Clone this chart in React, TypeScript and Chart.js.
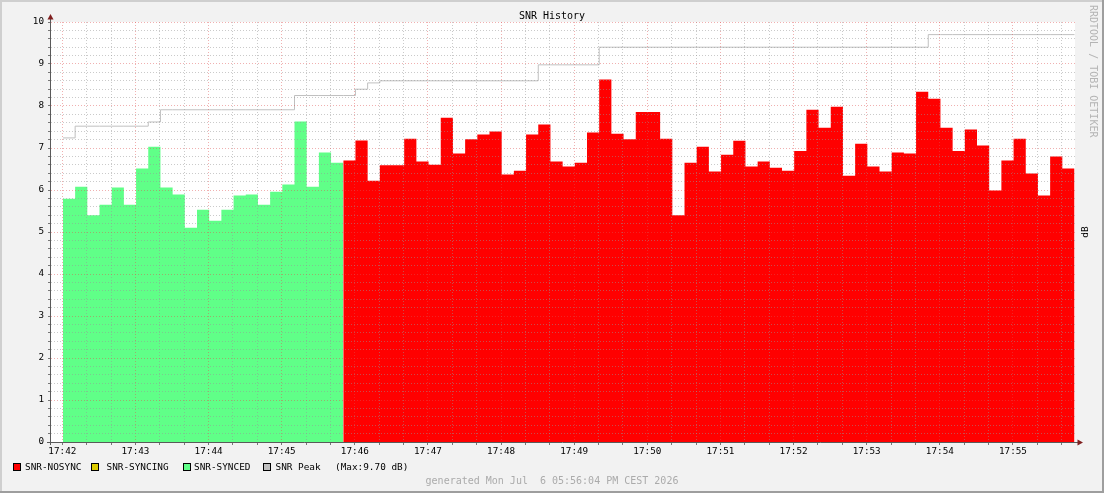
import React, { useEffect, useRef } from 'react';
import { Chart, registerables } from 'chart.js';

Chart.register(...registerables);

// ---------- data ----------
const chartTitle = 'SNR History';
const xTickLabels = ['17:42', '17:43', '17:44', '17:45', '17:46', '17:47', '17:48', '17:49', '17:50', '17:51', '17:52', '17:53', '17:54', '17:55'];
const yTickLabels = ['0', '1', '2', '3', '4', '5', '6', '7', '8', '9', '10'];
const seriesLabels = ['SNR-NOSYNC', 'SNR-SYNCING', 'SNR-SYNCED', 'SNR Peak'];

// 10 s samples, first sample right after 17:42
const syncedValues = [
  5.79, 6.08, 5.40, 5.65, 6.06, 5.65, 6.51, 7.03, 6.06, 5.89, 5.10, 5.53,
  5.27, 5.53, 5.87, 5.89, 5.65, 5.96, 6.13, 7.63, 6.08, 6.89, 6.65,
];
const syncingValues: number[] = [];
const nosyncValues = [
  6.70, 7.18, 6.22, 6.59, 6.59, 7.22, 6.68, 6.60, 7.72, 6.87, 7.21, 7.32,
  7.39, 6.37, 6.46, 7.32, 7.56, 6.68, 6.56, 6.65, 7.37, 8.63, 7.34, 7.21,
  7.86, 7.86, 7.22, 5.40, 6.65, 7.03, 6.44, 6.84, 7.17, 6.56, 6.68, 6.53,
  6.46, 6.93, 7.91, 7.48, 7.98, 6.34, 7.10, 6.56, 6.44, 6.89, 6.87, 8.34,
  8.17, 7.48, 6.93, 7.44, 7.06, 5.99, 6.70, 7.22, 6.39, 5.87, 6.80, 6.51,
];
// peak per sample (83 samples, same timeline)
const peakValues = [
  7.24,
  7.52, 7.52, 7.52, 7.52, 7.52, 7.52,
  7.62,
  7.91, 7.91, 7.91, 7.91, 7.91, 7.91, 7.91, 7.91, 7.91, 7.91, 7.91,
  8.25, 8.25, 8.25, 8.25, 8.25,
  8.40,
  8.55,
  8.60, 8.60, 8.60, 8.60, 8.60, 8.60, 8.60, 8.60, 8.60, 8.60, 8.60, 8.60, 8.60,
  8.98, 8.98, 8.98, 8.98, 8.98,
  9.40, 9.40, 9.40, 9.40, 9.40, 9.40, 9.40, 9.40, 9.40, 9.40,
  9.40, 9.40, 9.40, 9.40, 9.40, 9.40, 9.40, 9.40, 9.40, 9.40,
  9.40, 9.40, 9.40, 9.40, 9.40, 9.40, 9.40,
  9.70, 9.70, 9.70, 9.70, 9.70, 9.70, 9.70, 9.70, 9.70, 9.70, 9.70, 9.70,
];
const peakMaxText = '(Max:9.70 dB)';
const footerText = 'generated Mon Jul  6 05:56:04 PM CEST 2026';
const watermarkText = 'RRDTOOL / TOBI OETIKER';
const unitLabel = 'dB';

// ---------- styling / geometry constants ----------
const STEP = 10; // seconds per sample
const FIRST_SAMPLE = 0.5; // seconds after 17:42:00
const X_MIN = -9.3;
const X_MAX = 830.9;
const seriesColors = ['#FF0000', '#DDCC00', '#60FF88', '#C0C0C0'];
const MONO = '"DejaVu Sans Mono", monospace';
const MINOR_GRID = 'rgba(150,150,150,0.5)';
const MAJOR_GRID = 'rgba(222,79,79,0.45)';

function blockPoints(values: number[], startIndex: number) {
  const pts: { x: number; y: number }[] = [];
  values.forEach((v, i) => {
    const t0 = FIRST_SAMPLE + (startIndex + i) * STEP;
    pts.push({ x: t0, y: v }, { x: t0 + STEP, y: v });
  });
  return pts;
}

const isWhole = (v: number) => Math.abs(v - Math.round(v)) < 1e-6;

const rrdPlugin = {
  id: 'rrdDecor',
  beforeDraw(chart: any) {
    const { ctx, width, height, chartArea: a } = chart;
    ctx.save();
    ctx.fillStyle = '#F2F2F2';
    ctx.fillRect(0, 0, width, height);
    ctx.fillStyle = '#CFCFCF';
    ctx.fillRect(0, 0, width, 2);
    ctx.fillRect(0, 0, 2, height);
    ctx.fillStyle = '#9E9E9E';
    ctx.fillRect(0, height - 2, width, 2);
    ctx.fillRect(width - 2, 0, 2, height);
    ctx.fillStyle = '#FFFFFF';
    ctx.fillRect(a.left, a.top, a.right - a.left, a.bottom - a.top);
    ctx.restore();
  },
  afterDraw(chart: any) {
    const { ctx, chartArea: a } = chart;
    ctx.save();
    // axes
    ctx.strokeStyle = '#5A5A5A';
    ctx.lineWidth = 1;
    ctx.beginPath();
    ctx.moveTo(a.left - 0.5, a.bottom + 3);
    ctx.lineTo(a.left - 0.5, a.top - 4);
    ctx.moveTo(a.left - 4, a.bottom + 0.5);
    ctx.lineTo(a.right + 3, a.bottom + 0.5);
    ctx.stroke();
    ctx.fillStyle = 'rgb(128,31,31)';
    ctx.beginPath();
    ctx.moveTo(a.left - 0.5, a.top - 8);
    ctx.lineTo(a.left - 3.5, a.top - 2.5);
    ctx.lineTo(a.left + 2.5, a.top - 2.5);
    ctx.closePath();
    ctx.fill();
    ctx.beginPath();
    ctx.moveTo(a.right + 8, a.bottom + 0.5);
    ctx.lineTo(a.right + 2.5, a.bottom - 2.5);
    ctx.lineTo(a.right + 2.5, a.bottom + 3.5);
    ctx.closePath();
    ctx.fill();

    // title
    ctx.fillStyle = '#000';
    ctx.font = `10px ${MONO}`;
    ctx.textAlign = 'center';
    ctx.textBaseline = 'middle';
    ctx.fillText(chartTitle, 552, 16);

    // legend
    ctx.font = `9.4px ${MONO}`;
    ctx.textAlign = 'left';
    const boxX = [13, 91, 183, 263];
    const textX = [25, 106.5, 194, 275.5];
    seriesLabels.forEach((label, i) => {
      ctx.fillStyle = seriesColors[i];
      ctx.fillRect(boxX[i], 463, 8, 8);
      ctx.strokeStyle = '#000';
      ctx.strokeRect(boxX[i] + 0.5, 463.5, 7, 7);
      ctx.fillStyle = '#000';
      ctx.fillText(label, textX[i], 467.5);
    });
    ctx.fillText(peakMaxText, 335, 467.5);

    // footer
    ctx.font = `10px ${MONO}`;
    ctx.fillStyle = '#ABABAB';
    ctx.textAlign = 'center';
    ctx.fillText(footerText, 552, 481.5);

    // watermark (top to bottom)
    ctx.save();
    ctx.translate(1093, 5);
    ctx.rotate(Math.PI / 2);
    ctx.font = `10px ${MONO}`;
    ctx.fillStyle = '#B4B4B4';
    ctx.textAlign = 'left';
    ctx.fillText(watermarkText, 0, 0);
    ctx.restore();

    // unit label (bottom to top)
    ctx.save();
    ctx.translate(1085.5, 232);
    ctx.rotate(-Math.PI / 2);
    ctx.font = `9.4px ${MONO}`;
    ctx.fillStyle = '#000';
    ctx.textAlign = 'center';
    ctx.fillText(unitLabel, 0, 0);
    ctx.restore();

    ctx.restore();
  },
};

export default function App() {
  const canvasRef = useRef<HTMLCanvasElement | null>(null);

  useEffect(() => {
    document.body.style.margin = '0';
    const canvas = canvasRef.current;
    if (!canvas) return;

    const syncedStart = 0;
    const nosyncStart = syncedValues.length;
    const xGrid: number[] = [];
    for (let t = 0; t <= X_MAX; t += 20) xGrid.push(t);
    const yGrid: number[] = [];
    for (let i = 0; i <= 50; i++) yGrid.push(Math.round(i * 2) / 10);

    const chart = new Chart(canvas, {
      type: 'line',
      data: {
        datasets: [
          {
            label: seriesLabels[3],
            data: blockPoints(peakValues, 0),
            borderColor: seriesColors[3],
            borderWidth: 1,
            fill: false,
            pointRadius: 0,
            order: 0,
          },
          {
            label: seriesLabels[0],
            data: blockPoints(nosyncValues, nosyncStart),
            borderWidth: 0,
            borderColor: 'rgba(0,0,0,0)',
            backgroundColor: seriesColors[0],
            fill: 'origin',
            pointRadius: 0,
            order: 1,
          },
          {
            label: seriesLabels[1],
            data: blockPoints(syncingValues, 0),
            borderWidth: 0,
            borderColor: 'rgba(0,0,0,0)',
            backgroundColor: seriesColors[1],
            fill: 'origin',
            pointRadius: 0,
            order: 1,
          },
          {
            label: seriesLabels[2],
            data: blockPoints(syncedValues, syncedStart),
            borderWidth: 0,
            borderColor: 'rgba(0,0,0,0)',
            backgroundColor: seriesColors[2],
            fill: 'origin',
            pointRadius: 0,
            order: 1,
          },
        ],
      },
      options: {
        responsive: false,
        animation: false,
        events: [],
        layout: { padding: { top: 22, right: 29, left: 0, bottom: 0 } },
        elements: { line: { tension: 0 }, point: { radius: 0 } },
        plugins: {
          legend: { display: false },
          title: { display: false },
          tooltip: { enabled: false },
        },
        scales: {
          x: {
            type: 'linear',
            min: X_MIN,
            max: X_MAX,
            bounds: 'data',
            afterFit: (s: any) => {
              s.height = 51;
            },
            afterBuildTicks: (s: any) => {
              s.ticks = xGrid.map((v) => ({ value: v }));
            },
            ticks: {
              autoSkip: false,
              maxRotation: 0,
              minRotation: 0,
              padding: 1,
              color: '#000',
              font: { family: MONO, size: 9.3 },
              callback: (v: any) => {
                const n = Number(v);
                return Math.abs(n % 60) < 1e-6 ? xTickLabels[Math.round(n / 60)] ?? '' : '';
              },
            },
            grid: {
              z: 1,
              lineWidth: 1,
              color: (c: any) => (Math.abs(c.tick.value % 60) < 1e-6 ? MAJOR_GRID : MINOR_GRID),
              drawTicks: true,
              tickLength: 3,
              tickColor: '#777',
              tickBorderDash: [],
            },
            border: { display: false, dash: [1, 2] },
          },
          y: {
            type: 'linear',
            min: 0,
            max: 10,
            bounds: 'data',
            afterFit: (s: any) => {
              s.width = 51;
            },
            afterBuildTicks: (s: any) => {
              s.ticks = yGrid.map((v) => ({ value: v }));
            },
            ticks: {
              autoSkip: false,
              padding: 4,
              color: '#000',
              font: { family: MONO, size: 9.3 },
              callback: (v: any) => {
                const n = Number(v);
                return isWhole(n) ? yTickLabels[Math.round(n)] : '';
              },
            },
            grid: {
              z: 1,
              lineWidth: 1,
              color: (c: any) => (isWhole(c.tick.value) ? MAJOR_GRID : MINOR_GRID),
              drawTicks: true,
              tickLength: 3,
              tickColor: '#777',
              tickBorderDash: [],
            },
            border: { display: false, dash: [1, 2] },
          },
        },
      },
      plugins: [rrdPlugin],
    } as any);

    return () => chart.destroy();
  }, []);

  return <canvas ref={canvasRef} width={1104} height={493} style={{ display: 'block' }} />;
}
